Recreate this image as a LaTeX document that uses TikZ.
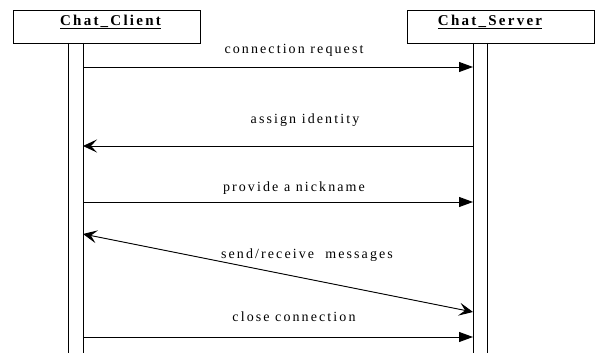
\documentclass[tikz,border=0pt]{standalone}
\usepackage{fontspec}
\setmainfont{Liberation Serif}
\newfontfamily\spacedfont[LetterSpace=15]{Liberation Serif}
\usetikzlibrary{arrows.meta}
\tikzset{   object/.style = {rectangle, draw = black, line width=0.9pt, fill = white, minimum width=187pt, minimum height=33pt, inner sep=0pt},
            objname/.style = {font=\spacedfont\bfseries\fontsize{15}{17}\selectfont, inner sep=0pt},
            msg/.style = {font=\spacedfont\fontsize{14}{16}\selectfont, inner sep=0pt},
            life/.style = {line width=0.9pt},
            call/.style = {line width=0.9pt, -{Triangle[length=14pt,width=10pt]}},
            answer/.style = {line width=0.9pt, -{Stealth[length=14pt,width=13pt,inset=6pt]}},
            both/.style = {line width=0.9pt, {Stealth[length=14pt,width=13pt,inset=6pt]}-{Stealth[length=14pt,width=13pt,inset=6pt]}}}

\begin{document}
\begin{tikzpicture}[x=1pt,y=-1pt]
\useasboundingbox (0,0) rectangle (600,355);
% objects
\node[object] (client) at (106.5,26.5) {};
\node[object] (server) at (500.5,26.5) {};
\node[objname] (clientname) at (110.5,22) {\underline{Chat\_Client}};
\node[objname] (servername) at (490,22) {\underline{Chat\_Server}};
% lifelines
\draw[life] (68,43) -- (68,353);
\draw[life] (83,43) -- (83,353);
\draw[life] (473,43) -- (473,353);
\draw[life] (487,43) -- (487,353);
% message ends
\coordinate (c1) at (83,67);  \coordinate (s1) at (473,67);
\coordinate (c2) at (83,146); \coordinate (s2) at (473,146);
\coordinate (c3) at (83,202); \coordinate (s3) at (473,202);
\coordinate (c4) at (83,234); \coordinate (s4) at (473,312);
\coordinate (c5) at (83,337); \coordinate (s5) at (473,337);
% messages
\draw[call] (c1) -- (s1);
\node[msg] (m1) at (294,50) {connection request};
\draw[answer] (s2) -- (c2);
\node[msg] (m2) at (305,120) {assign identity};
\draw[call] (c3) -- (s3);
\node[msg] (m3) at (294,188) {provide a nickname};
\draw[both] (c4) -- (s4);
\node[msg] (m4) at (307,255) {send/receive\ \ messages};
\draw[call] (c5) -- (s5);
\node[msg] (m5) at (294,317) {close connection};
\end{tikzpicture}
\end{document}
